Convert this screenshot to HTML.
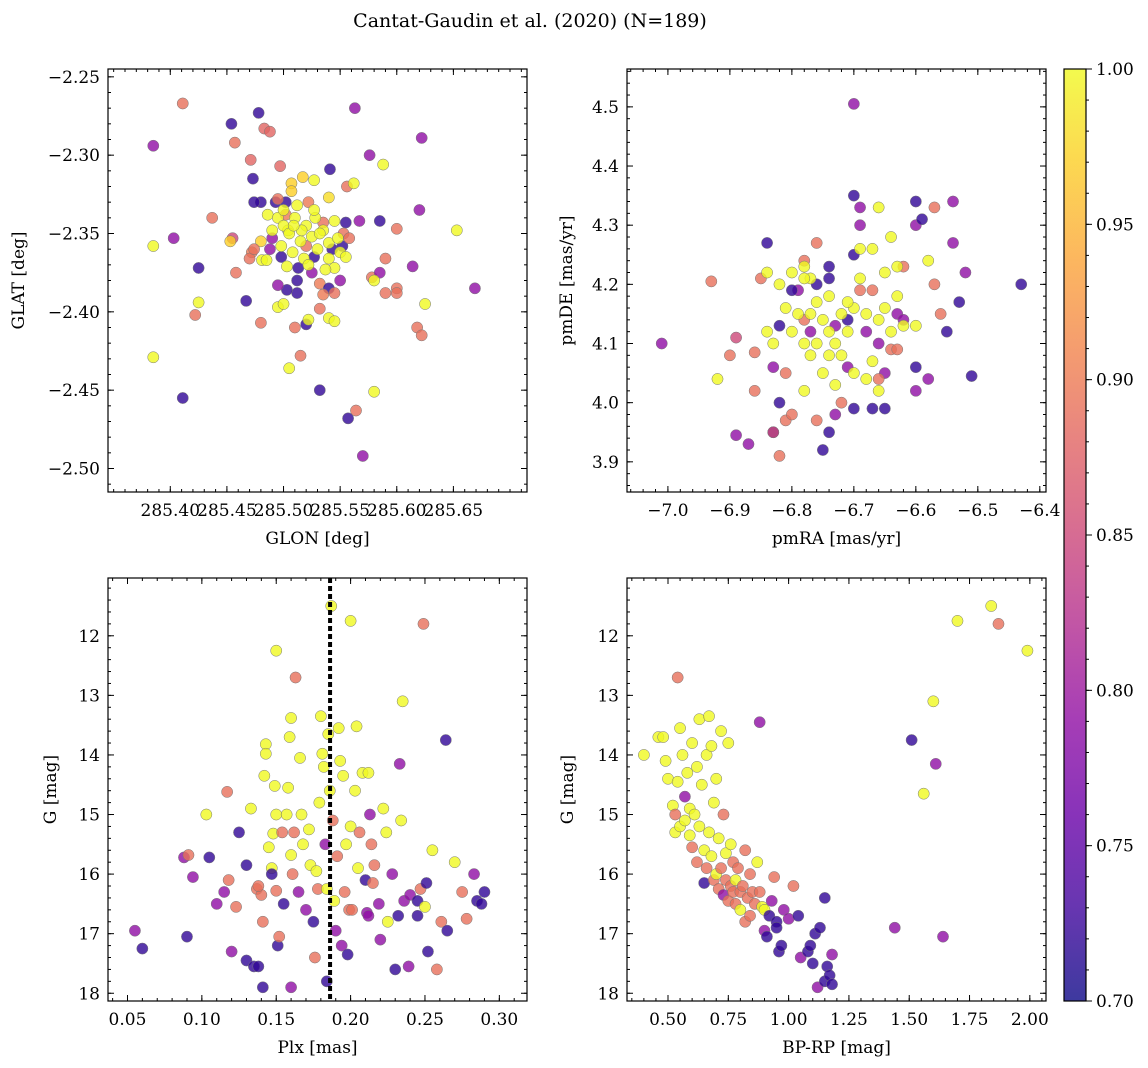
<!DOCTYPE html>
<html><head><meta charset="utf-8"><style>
html,body{margin:0;padding:0;background:#fff;}
svg{display:block;font-family:"DejaVu Serif","Liberation Serif",serif;}
</style></head><body>
<svg id="fig" width="1148" height="1068" viewBox="0 0 1148 1068" xmlns="http://www.w3.org/2000/svg">
<text x="530" y="27" font-size="19" text-anchor="middle">Cantat-Gaudin et al. (2020) (N=189)</text>
</svg>
<script>
// ---- data arrays ----
const p1Points = [
[285.411,-2.267,.89],[285.385,-2.294,.79],[285.454,-2.280,.72],[285.478,-2.273,.72],[285.483,-2.283,.88],[285.488,-2.285,.88],[285.457,-2.292,.89],[285.471,-2.303,.88],[285.563,-2.270,.79],[285.622,-2.289,.79],[285.576,-2.300,.79],[285.541,-2.309,.72],[285.497,-2.307,.88],[285.517,-2.314,.97],[285.527,-2.316,1.0],[285.507,-2.318,.97],[285.588,-2.306,1.0],[285.556,-2.320,.89],[285.562,-2.318,1.0],[285.473,-2.315,.72],[285.480,-2.330,.72],[285.474,-2.330,.72],[285.493,-2.330,.72],[285.502,-2.330,.72],[285.486,-2.338,1.0],[285.502,-2.338,.9],[285.495,-2.328,.89],[285.507,-2.323,.97],[285.522,-2.330,.9],[285.540,-2.327,.98],[285.437,-2.340,.89],[285.455,-2.353,.85],[285.453,-2.355,.97],[285.480,-2.355,.97],[285.490,-2.353,.79],[285.472,-2.362,.9],[285.470,-2.366,.89],[285.481,-2.367,1.0],[285.488,-2.360,.79],[285.504,-2.348,1.0],
[285.520,-2.358,.89],[285.535,-2.343,.89],[285.513,-2.372,.72],[285.527,-2.365,.72],[285.543,-2.360,.72],[285.552,-2.358,.72],[285.498,-2.365,.72],[285.525,-2.375,.79],[285.512,-2.380,.72],[285.532,-2.382,.9],[285.540,-2.385,.72],[285.512,-2.388,.72],[285.503,-2.386,.72],[285.550,-2.380,.79],[285.555,-2.343,.72],[285.553,-2.350,.89],[285.558,-2.353,.89],[285.545,-2.388,.89],[285.535,-2.389,.9],
[285.495,-2.340,1],[285.500,-2.345,1],[285.505,-2.350,1],[285.510,-2.340,1],[285.515,-2.355,1],[285.520,-2.345,1],[285.525,-2.352,1],[285.530,-2.360,1],[285.535,-2.348,1],[285.540,-2.356,1],[285.545,-2.342,1],[285.550,-2.362,1],[285.498,-2.358,1],[285.508,-2.362,1],[285.518,-2.366,1],[285.528,-2.340,1],[285.512,-2.332,1],[285.503,-2.371,1],[285.522,-2.370,1],[285.540,-2.366,1],[285.555,-2.365,1],[285.545,-2.372,1],[285.532,-2.350,1],[285.516,-2.348,1],[285.500,-2.335,1],[285.490,-2.348,1],[285.527,-2.335,1],[285.548,-2.353,1],[285.537,-2.373,1],[285.509,-2.345,1],
[285.385,-2.358,1.0],[285.403,-2.353,.79],[285.425,-2.372,.72],[285.425,-2.394,1.0],[285.422,-2.402,.89],[285.385,-2.429,1.0],[285.411,-2.455,.72],[285.467,-2.393,.72],[285.480,-2.407,.89],[285.495,-2.383,.79],[285.495,-2.397,1.0],[285.500,-2.395,1.0],[285.485,-2.367,1.0],[285.458,-2.375,.89],[285.474,-2.360,.89],[285.510,-2.410,.89],[285.520,-2.408,.72],[285.522,-2.405,1.0],[285.532,-2.398,.89],[285.540,-2.404,1.0],[285.545,-2.406,1.0],[285.515,-2.428,.89],[285.505,-2.436,1.0],[285.532,-2.450,.72],[285.557,-2.468,.72],[285.564,-2.463,.89],[285.570,-2.492,.79],[285.580,-2.451,1.0],[285.578,-2.378,.89],[285.585,-2.375,.79],[285.590,-2.366,.89],[285.600,-2.385,.89],[285.600,-2.388,.89],[285.614,-2.371,.79],[285.618,-2.410,.89],[285.622,-2.415,.89],[285.625,-2.395,1.0],[285.620,-2.335,.79],[285.600,-2.347,.89],[285.585,-2.342,.72],[285.567,-2.342,.79],[285.580,-2.380,1.0],[285.653,-2.348,1.0],[285.669,-2.385,.79],[285.590,-2.388,.89]
];
const p2Points = [
[-6.70,4.505,.79],[-7.01,4.10,.79],[-6.93,4.205,.89],[-6.90,4.08,.89],[-6.89,4.11,.85],[-6.89,3.945,.79],[-6.87,3.93,.79],[-6.86,4.085,.89],[-6.86,4.02,.89],[-6.85,4.21,.89],[-6.84,4.27,.72],[-6.83,4.06,.79],[-6.82,4.13,.72],[-6.82,4.00,.72],[-6.83,3.95,.72],[-6.83,3.95,.85],[-6.82,3.91,.89],[-6.81,4.05,.89],[-6.81,3.97,.89],[-6.80,3.98,.89],[-6.79,4.19,.79],[-6.78,4.24,.89],[-6.78,4.14,.89],[-6.77,4.12,.79],[-6.76,4.27,.89],[-6.76,3.97,.89],[-6.75,3.92,.72],[-6.74,3.95,.72],[-6.73,3.98,.79],[-6.72,4.00,.89],[-6.71,4.06,.79],[-6.70,4.35,.72],[-6.69,4.33,.79],[-6.69,4.30,.79],[-6.70,3.99,.72],[-6.67,3.99,.72],[-6.65,3.99,.72],[-6.64,4.09,.89],[-6.66,4.10,.79],[-6.63,4.15,.79],[-6.62,4.23,.89],[-6.60,4.30,.79],[-6.59,4.31,.72],[-6.60,4.34,.72],[-6.60,4.06,.72],[-6.60,4.02,.79],[-6.58,4.04,.79],[-6.57,4.33,.89],[-6.57,4.20,.89],[-6.56,4.15,.89],[-6.55,4.12,.72],[-6.54,4.34,.79],[-6.54,4.27,.79],[-6.53,4.17,.72],[-6.52,4.22,.79],[-6.51,4.045,.72],[-6.43,4.20,.72],[-6.74,4.23,.72],[-6.74,4.21,.72],[-6.76,4.20,.72],[-6.73,4.13,.79],[-6.80,4.19,.72],[-6.68,4.12,.79],[-6.67,4.19,.89],[-6.70,4.25,.72],[-6.71,4.14,.72],[-6.65,4.05,.79],[-6.66,4.04,.89],[-6.63,4.09,.89],[-6.69,4.19,.89],[-6.62,4.14,.79],
[-6.92,4.04,1],[-6.84,4.22,1],[-6.82,4.20,1],[-6.80,4.22,1],[-6.78,4.23,1],[-6.77,4.21,1],[-6.79,4.15,1],[-6.78,4.10,1],[-6.76,4.17,1],[-6.75,4.14,1],[-6.74,4.12,1],[-6.73,4.10,1],[-6.72,4.08,1],[-6.71,4.12,1],[-6.70,4.16,1],[-6.69,4.21,1],[-6.69,4.26,1],[-6.67,4.26,1],[-6.66,4.33,1],[-6.64,4.28,1],[-6.65,4.22,1],[-6.63,4.23,1],[-6.63,4.18,1],[-6.62,4.13,1],[-6.60,4.13,1],[-6.58,4.24,1],[-6.68,4.15,1],[-6.67,4.07,1],[-6.66,4.02,1],[-6.68,4.04,1],[-6.70,4.05,1],[-6.73,4.03,1],[-6.75,4.05,1],[-6.77,4.08,1],[-6.78,4.02,1],[-6.81,4.16,1],[-6.83,4.10,1],[-6.84,4.12,1],[-6.80,4.12,1],[-6.77,4.15,1],[-6.74,4.18,1],[-6.72,4.15,1],[-6.71,4.17,1],[-6.66,4.14,1],[-6.65,4.16,1],[-6.64,4.12,1],[-6.78,4.21,1],[-6.76,4.10,1],[-6.74,4.08,1]
];
const p3Points = [
[0.055,16.95,.79],[0.060,17.25,.72],[0.088,15.72,.79],[0.091,15.68,.89],[0.090,17.05,.72],[0.094,16.05,.79],[0.103,15.0,1.0],[0.105,15.72,.72],[0.110,16.5,.79],[0.115,16.3,.79],[0.117,14.62,.89],[0.118,16.1,.89],[0.120,17.3,.79],[0.123,16.55,.89],[0.125,15.3,.72],[0.130,15.85,.72],[0.130,17.45,.72],[0.133,14.9,1.0],[0.135,17.55,.72],[0.138,17.55,.72],[0.137,16.25,.89],[0.140,16.35,.89],[0.138,16.2,.89],[0.141,16.8,.89],[0.141,17.9,.72],[0.142,14.35,1.0],[0.143,13.82,1.0],[0.143,13.98,1.0],[0.145,15.55,1.0],[0.147,15.9,1.0],[0.147,16.0,.72],[0.148,15.32,1.0],[0.149,14.52,1.0],[0.150,15.0,1.0],[0.150,12.25,1.0],[0.150,16.28,.89],[0.151,17.2,.72],[0.152,17.05,.89],[0.154,15.3,.89],[0.155,16.5,.72],[0.157,15.0,1.0],[0.158,14.55,1.0],[0.159,13.7,1.0],[0.160,13.38,1.0],[0.160,15.68,1.0],[0.161,16.0,.89],[0.162,15.3,.89],[0.160,17.9,.79],[0.163,12.7,.89],[0.165,16.3,.79],[0.166,14.05,1.0],[0.167,15.0,1.0],[0.168,15.5,1.0],[0.170,16.6,.79],[0.172,15.25,1.0],[0.173,15.85,1.0],[0.175,16.8,.72],[0.176,17.4,.89],[0.177,15.95,1.0],[0.178,16.25,.89],[0.179,14.8,1.0],[0.180,13.35,1.0],[0.181,13.98,1.0],[0.182,14.2,1.0],[0.183,15.5,.79],[0.184,16.25,1.0],[0.184,17.8,.72],[0.185,13.65,1.0],[0.186,14.6,1.0],[0.187,11.5,1.0],[0.188,15.1,.89],[0.189,16.45,1.0],[0.190,16.95,.79],[0.191,15.7,.89],[0.192,13.55,1.0],[0.193,14.1,1.0],[0.194,17.2,.79],[0.195,14.35,1.0],[0.196,16.3,.89],[0.197,15.5,1.0],[0.198,17.35,.72],[0.199,16.6,.89],[0.200,11.75,1.0],[0.200,15.2,1.0],[0.201,16.6,.89],[0.203,14.6,1.0],[0.204,13.52,1.0],[0.205,15.9,1.0],[0.206,15.3,.89],[0.208,14.3,1.0],[0.210,16.1,.72],[0.211,16.65,.79],[0.212,16.7,.79],[0.212,14.3,1.0],[0.213,15.0,.79],[0.214,15.5,.89],[0.215,16.15,.89],[0.216,15.85,.89],[0.219,16.5,.79],[0.220,17.1,.79],[0.222,14.9,1.0],[0.224,15.3,1.0],[0.225,16.8,1.0],[0.228,16.0,.79],[0.230,17.6,.72],[0.232,16.7,.72],[0.233,14.15,.79],[0.234,15.1,1.0],[0.235,13.1,1.0],[0.236,16.45,.79],[0.240,16.35,.79],[0.245,16.7,.72],[0.245,16.45,.72],[0.247,16.25,.89],[0.249,11.8,.89],[0.250,16.55,1.0],[0.251,16.15,.72],[0.252,17.3,.72],[0.255,15.6,1.0],[0.258,17.6,.89],[0.261,16.8,.89],[0.264,13.75,.72],[0.265,16.95,.72],[0.270,15.8,1.0],[0.275,16.3,.89],[0.278,16.75,.89],[0.283,16.0,.79],[0.285,16.45,.72],[0.288,16.5,.72],[0.290,16.3,.72],[0.239,17.55,.79]
];
const p4Points = [
[0.40,14.0,1.0],[0.46,13.7,1.0],[0.48,13.7,1.0],[0.49,14.1,1.0],[0.50,14.4,1.0],[0.52,14.85,1.0],[0.53,15.0,.89],[0.53,15.3,1.0],[0.54,12.7,.89],[0.54,14.45,1.0],[0.55,15.2,1.0],[0.55,13.55,1.0],[0.56,14.0,1.0],[0.57,14.7,.79],[0.57,15.1,1.0],[0.58,14.3,1.0],[0.59,14.9,1.0],[0.59,15.35,1.0],[0.60,15.55,.89],[0.60,13.8,1.0],[0.61,15.0,1.0],[0.62,14.2,1.0],[0.62,15.8,.89],[0.63,15.2,1.0],[0.63,13.4,1.0],[0.64,14.5,1.0],[0.65,15.6,1.0],[0.65,16.15,.72],[0.66,14.0,1.0],[0.66,15.9,.89],[0.67,15.3,1.0],[0.67,13.35,1.0],[0.68,13.85,1.0],[0.68,15.7,1.0],[0.69,16.1,.89],[0.69,14.8,1.0],[0.70,14.4,1.0],[0.70,16.0,1.0],[0.71,15.4,1.0],[0.71,16.25,.89],[0.72,13.6,1.0],[0.72,15.9,.89],[0.73,15.0,.89],[0.73,16.35,.79],[0.74,15.65,1.0],[0.74,16.1,.89],[0.75,13.8,1.0],[0.75,16.45,.89],[0.76,15.5,1.0],[0.76,16.2,.89],[0.77,15.8,.89],[0.77,16.3,.89],[0.78,16.1,1.0],[0.78,16.5,.89],[0.79,15.9,.89],[0.80,16.3,.89],[0.80,16.6,1.0],[0.81,16.2,.89],[0.82,15.6,.89],[0.82,16.8,.89],[0.83,16.4,.89],[0.84,16.0,.89],[0.84,16.7,.89],[0.85,16.3,.89],[0.86,16.5,.89],[0.87,15.8,1.0],[0.88,13.45,.79],[0.88,16.3,.89],[0.89,16.55,1.0],[0.90,16.6,1.0],[0.90,16.95,.79],[0.91,17.05,.72],[0.92,16.7,.72],[0.93,16.45,.79],[0.94,16.05,.89],[0.95,16.8,.72],[0.95,16.9,.72],[0.96,17.3,.72],[0.97,17.2,.72],[0.98,16.6,.79],[1.00,16.75,.79],[1.02,16.2,.89],[1.04,16.7,.72],[1.05,17.4,.79],[1.08,17.3,.72],[1.09,17.2,.72],[1.10,17.5,.72],[1.11,17.0,.72],[1.12,17.9,.79],[1.13,16.9,.72],[1.15,16.4,.72],[1.15,17.8,.72],[1.16,17.55,.72],[1.17,17.7,.72],[1.18,17.35,.79],[1.18,17.85,.72],[1.44,16.9,.79],[1.51,13.75,.72],[1.56,14.65,1.0],[1.60,13.1,1.0],[1.61,14.15,.79],[1.64,17.05,.79],[1.70,11.75,1.0],[1.84,11.5,1.0],[1.87,11.8,.89],[1.99,12.25,1.0]
];
const p1XTicks = [285.40,285.45,285.50,285.55,285.60,285.65];
const p1YTicks = [-2.25,-2.30,-2.35,-2.40,-2.45,-2.50];
const p2XTicks = [-7.0,-6.9,-6.8,-6.7,-6.6,-6.5,-6.4];
const p2YTicks = [3.9,4.0,4.1,4.2,4.3,4.4,4.5];
const p3XTicks = [0.05,0.10,0.15,0.20,0.25,0.30];
const gTicks = [12,13,14,15,16,17,18];
const p4XTicks = [0.50,0.75,1.00,1.25,1.50,1.75,2.00];
const cbTicks = [0.70,0.75,0.80,0.85,0.90,0.95,1.00];
const plxRefLine = [0.1862];

const NS='http://www.w3.org/2000/svg';
const svg=document.getElementById('fig');
function el(tag,attrs,parent){const e=document.createElementNS(NS,tag);for(const k in attrs)e.setAttribute(k,attrs[k]);(parent||svg).appendChild(e);return e;}
const stops2=[[0,[13,8,135]],[0.1,[65,4,157]],[0.2,[106,0,168]],[0.3,[143,13,164]],[0.4,[177,42,144]],[0.5,[204,71,120]],[0.6,[225,100,98]],[0.7,[242,132,75]],[0.8,[252,166,54]],[0.9,[252,206,37]],[1,[240,249,33]]];
function plasma(t){t=Math.max(0,Math.min(1,t));for(let i=1;i<stops2.length;i++){if(t<=stops2[i][0]){const a=stops2[i-1],b=stops2[i];const f=(t-a[0])/(b[0]-a[0]);const c=a[1].map((v,j)=>Math.round(v+(b[1][j]-v)*f));return `rgb(${c[0]},${c[1]},${c[2]})`;}}return 'rgb(240,249,33)';}
const cmap=p=>plasma((p-0.7)/0.3);

function fmt(v,d){return (v<0?'\u2212':'')+Math.abs(v).toFixed(d);}

function panel(o){
  const g=el('g',{});
  
  
  const sx=v=>o.x0+(v-o.xmin)/(o.xmax-o.xmin)*(o.x1-o.x0);
  const sy=v=>o.inv? o.y0+(v-o.ymin)/(o.ymax-o.ymin)*(o.y1-o.y0) : o.y1-(v-o.ymin)/(o.ymax-o.ymin)*(o.y1-o.y0);
  const pts=el('g',{},g);
  
  
  o.pts.forEach(d=>{const c=el('circle',{cx:sx(d[0]),cy:sy(d[1]),r:5.6,fill:cmap(d[2]),'fill-opacity':0.8,stroke:'#777','stroke-width':0.5},pts);
    
    });
  if(o.vline){o.vline.forEach(v=>{const l=el('line',{x1:sx(v),x2:sx(v),y1:o.y0,y2:o.y1,stroke:'#000','stroke-width':4,'stroke-dasharray':'5,3'},g);
    
    });}
  const fr=el('rect',{x:o.x0,y:o.y0,width:o.x1-o.x0,height:o.y1-o.y0,fill:'none',stroke:'#000','stroke-width':1.2},g);
  
  
  const tk=el('g',{stroke:'#000','stroke-width':1},g);
  const xstep=o.xt[1]-o.xt[0], ystep=o.yt[1]-o.yt[0];
  const xm=Math.abs(xstep)/5, ym=Math.abs(ystep)/5;
  for(let v=Math.ceil(o.xmin/xm)*xm; v<=o.xmax+1e-9; v+=xm){const x=sx(v);el('line',{x1:x,x2:x,y1:o.y1,y2:o.y1-3},tk);el('line',{x1:x,x2:x,y1:o.y0,y2:o.y0+3},tk);}
  const ylo=Math.min(o.ymin,o.ymax), yhi=Math.max(o.ymin,o.ymax);
  for(let v=Math.ceil(ylo/ym)*ym; v<=yhi+1e-9; v+=ym){const y=sy(v);el('line',{x1:o.x0,x2:o.x0+3,y1:y,y2:y},tk);el('line',{x1:o.x1,x2:o.x1-3,y1:y,y2:y},tk);}
  o.xt.forEach(v=>{const x=sx(v);el('line',{x1:x,x2:x,y1:o.y1,y2:o.y1-6},tk);el('line',{x1:x,x2:x,y1:o.y0,y2:o.y0+6},tk);
    const t=el('text',{x:x,y:o.y1+24,'font-size':17,'text-anchor':'middle'},g);t.textContent=fmt(v,o.xd);
    
    });
  o.yt.forEach(v=>{const y=sy(v);el('line',{x1:o.x0,x2:o.x0+6,y1:y,y2:y},tk);el('line',{x1:o.x1,x2:o.x1-6,y1:y,y2:y},tk);
    const t=el('text',{x:o.x0-8,y:y+6,'font-size':17,'text-anchor':'end'},g);t.textContent=fmt(v,o.yd);
    
    });
  const xl=el('text',{x:(o.x0+o.x1)/2,y:o.y1+52,'font-size':17,'text-anchor':'middle'},g);xl.textContent=o.xl;
  
  
  const yc=(o.y0+o.y1)/2;
  const yl=el('text',{x:o.ylx,y:yc,'font-size':17,'text-anchor':'middle',transform:`rotate(-90 ${o.ylx} ${yc})`},g);yl.textContent=o.yl;
  
  
}
panel({name:'panel-glon-glat',pts:p1Points,x0:108,x1:527,y0:69,y1:492,xmin:285.345,xmax:285.715,ymin:-2.515,ymax:-2.245,xt:p1XTicks,yt:p1YTicks,xd:2,yd:2,xl:'GLON [deg]',yl:'GLAT [deg]',ylx:24});
panel({name:'panel-proper-motion',pts:p2Points,x0:627,x1:1046,y0:69,y1:492,xmin:-7.066,xmax:-6.390,ymin:3.849,ymax:4.564,xt:p2XTicks,yt:p2YTicks,xd:1,yd:1,xl:'pmRA [mas/yr]',yl:'pmDE [mas/yr]',ylx:572});
panel({name:'panel-plx-g',pts:p3Points,x0:108,x1:527,y0:578,y1:1001,xmin:0.0369,xmax:0.3186,ymin:11.03,ymax:18.13,inv:true,xt:p3XTicks,yt:gTicks,xd:2,yd:0,xl:'Plx [mas]',yl:'G [mag]',ylx:56,vline:plxRefLine});
panel({name:'panel-cmd',pts:p4Points,x0:627,x1:1046,y0:578,y1:1001,xmin:0.330,xmax:2.067,ymin:11.03,ymax:18.13,inv:true,xt:p4XTicks,yt:gTicks,xd:2,yd:0,xl:'BP-RP [mag]',yl:'G [mag]',ylx:573});

// colorbar
const cb=el('g',{});


const defs=el('defs',{},cb);
const lg=el('linearGradient',{id:'cbg',x1:0,y1:1,x2:0,y2:0},defs);
for(let i=0;i<=20;i++){el('stop',{offset:i/20,'stop-color':plasma(i/20),'stop-opacity':0.8},lg);}
const cbx0=1064,cbx1=1086,cby0=69,cby1=1001;
el('rect',{x:cbx0,y:cby0,width:cbx1-cbx0,height:cby1-cby0,fill:'url(#cbg)',stroke:'#000','stroke-width':1.2},cb);
const cy=v=>cby1-(v-0.7)/0.3*(cby1-cby0);
for(let v=0.70;v<=1.0001;v+=0.01){el('line',{x1:cbx1,x2:cbx1+3,y1:cy(v),y2:cy(v),stroke:'#000'},cb);}
cbTicks.forEach(v=>{el('line',{x1:cbx1,x2:cbx1+6,y1:cy(v),y2:cy(v),stroke:'#000'},cb);
  const t=el('text',{x:cbx1+10,y:cy(v)+6,'font-size':17},cb);t.textContent=v.toFixed(2);
  
  });
</script>
</body></html>
